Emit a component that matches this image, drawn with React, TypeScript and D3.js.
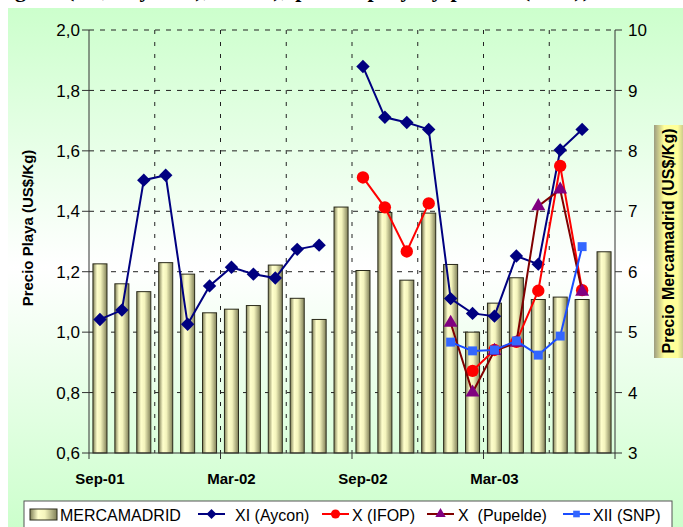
import React from 'react';
import * as d3 from 'd3';

// months Sep-01 .. Aug-03
const months = [
  'Sep-01', 'Oct-01', 'Nov-01', 'Dic-01', 'Ene-02', 'Feb-02', 'Mar-02', 'Abr-02',
  'May-02', 'Jun-02', 'Jul-02', 'Ago-02', 'Sep-02', 'Oct-02', 'Nov-02', 'Dic-02',
  'Ene-03', 'Feb-03', 'Mar-03', 'Abr-03', 'May-03', 'Jun-03', 'Jul-03', 'Ago-03',
];
const shownLabels = ['Sep-01', 'Mar-02', 'Sep-02', 'Mar-03'];

// right axis (US$/Kg)
const mercamadrid = [
  6.13, 5.80, 5.67, 6.15, 5.96, 5.32, 5.38, 5.44, 6.11, 5.56, 5.21, 7.07,
  6.02, 6.98, 5.86, 6.97, 6.12, 5.00, 5.48, 5.90, 5.54, 5.58, 5.54, 6.33,
];
// left axis (US$/Kg)
const aycon = [
  1.042, 1.073, 1.503, 1.519, 1.026, 1.153, 1.215, 1.192, 1.179, 1.274, 1.288, null,
  1.879, 1.711, 1.694, 1.671, 1.111, 1.062, 1.053, 1.252, 1.225, 1.603, 1.671, null,
];
const ifop = [
  null, null, null, null, null, null, null, null, null, null, null, null,
  1.512, 1.413, 1.267, 1.426, null, 0.872, 0.941, 0.968, 1.137, 1.550, 1.139, null,
];
const pupelde = [
  null, null, null, null, null, null, null, null, null, null, null, null,
  null, null, null, null, 1.031, 0.800, 0.938, 0.965, 1.417, 1.472, 1.134, null,
];
const snp = [
  null, null, null, null, null, null, null, null, null, null, null, null,
  null, null, null, null, 0.967, 0.938, 0.941, 0.971, 0.924, 0.987, 1.283, null,
];

const leftTicks = [0.6, 0.8, 1.0, 1.2, 1.4, 1.6, 1.8, 2.0];
const rightTicks = [3, 4, 5, 6, 7, 8, 9, 10];

const W = 683;
const H = 527;
const plot = { left: 89, right: 615, top: 30, bottom: 453 };

type Series = {
  name: string;
  values: (number | null)[];
  line: string;
  fill: string;
  symbol: d3.SymbolType;
  size: number;
  rotate: number;
};

const series: Series[] = [
  { name: 'XI (Aycon)', values: aycon, line: '#000080', fill: '#000080', symbol: d3.symbolSquare, size: 90, rotate: 45 },
  { name: 'X (IFOP)', values: ifop, line: '#ff0000', fill: '#ff0000', symbol: d3.symbolCircle, size: 120, rotate: 0 },
  { name: 'X  (Pupelde)', values: pupelde, line: '#800000', fill: '#800080', symbol: d3.symbolTriangle, size: 85, rotate: 0 },
  { name: 'XII (SNP)', values: snp, line: '#1a4cff', fill: '#3366ff', symbol: d3.symbolSquare, size: 80, rotate: 0 },
];

// legend layout: swatch start and text start
const legendPos = [
  { sx: 30, tx: 60 },
  { sx: 198, tx: 235 },
  { sx: 322, tx: 352 },
  { sx: 427, tx: 458 },
  { sx: 563, tx: 593 },
];

export default function App() {
  const x = d3.scaleBand<string>()
    .domain(months)
    .range([plot.left, plot.right])
    .paddingInner(0.36)
    .paddingOuter(0.18);
  const step = x.step();
  const cx = (m: string) => (x(m) as number) + x.bandwidth() / 2;
  const edge = (i: number) => (x(months[0]) as number) - (step * 0.36) / 2 + i * step;

  const yL = d3.scaleLinear().domain([0.6, 2.0]).range([plot.bottom, plot.top]);
  const yR = d3.scaleLinear().domain([3, 10]).range([plot.bottom, plot.top]);

  const vGrid = d3.range(3, months.length, 3).map(edge);
  const xTicks = d3.range(0, months.length + 1, 6).map(edge);

  const fmt = (v: number) => d3.format('.1f')(v).replace('.', ',');

  const lineGen = (vals: (number | null)[]) =>
    d3.line<number | null>()
      .defined(d => d !== null)
      .x((_, i) => cx(months[i]))
      .y(d => yL(d as number))(vals) || '';

  const sym = (s: Series) => d3.symbol().type(s.symbol).size(s.size)() || '';

  return (
    <div style={{ position: 'fixed', left: 0, top: 0 }}>
      <svg width={W} height={H} style={{ display: 'block', fontFamily: 'Arial, "Liberation Sans", sans-serif' }}>
        <defs>
          <linearGradient id="bg" x1="0" y1="0" x2="0" y2="1">
            <stop offset="0%" stopColor="#ccffcc" />
            <stop offset="50%" stopColor="#ffffff" />
            <stop offset="100%" stopColor="#ccffcc" />
          </linearGradient>
          <linearGradient id="bar" x1="0" y1="0" x2="1" y2="0">
            <stop offset="0%" stopColor="#808058" />
            <stop offset="30%" stopColor="#ffffcc" />
            <stop offset="55%" stopColor="#f4f4bd" />
            <stop offset="100%" stopColor="#808058" />
          </linearGradient>
          <linearGradient id="ttl" x1="0" y1="0" x2="1" y2="0">
            <stop offset="0%" stopColor="#9c9c80" />
            <stop offset="30%" stopColor="#ffff99" />
            <stop offset="70%" stopColor="#ffff99" />
            <stop offset="100%" stopColor="#9c9c80" />
          </linearGradient>
        </defs>

        <rect x={0} y={0} width={W} height={H} fill="#ffffff" />
        {/* chart title, cropped at the top edge as in the source */}
        <text x={15} y={-3} fontFamily="'Liberation Serif', 'Times New Roman', serif" fontWeight="bold" fontSize={22}
          textLength={575} lengthAdjust="spacing">
          gion (XI, X y XII), Chile), precio playa y precio (US$))
        </text>
        <rect x={8} y={8} width={W - 8} height={H - 8} fill="url(#bg)" />

        {/* horizontal gridlines */}
        {leftTicks.slice(1).map(t => (
          <line key={'h' + t} x1={plot.left} x2={plot.right} y1={yL(t)} y2={yL(t)}
            stroke="#222" strokeWidth={1} strokeDasharray="5,6" />
        ))}
        {/* vertical gridlines */}
        {vGrid.map((gx, i) => (
          <line key={'v' + i} x1={gx} x2={gx} y1={plot.top} y2={plot.bottom}
            stroke="#222" strokeWidth={1} strokeDasharray="4,8" />
        ))}

        {/* bars */}
        {mercamadrid.map((v, i) => (
          <rect key={'b' + i} x={x(months[i])} y={yR(v)} width={x.bandwidth()} height={plot.bottom - yR(v)}
            fill="url(#bar)" stroke="#2a2a1a" strokeWidth={1} />
        ))}

        {/* axes */}
        <line x1={plot.left} x2={plot.left} y1={plot.top} y2={plot.bottom} stroke="#333" />
        <line x1={plot.right} x2={plot.right} y1={plot.top} y2={plot.bottom} stroke="#333" />
        <line x1={plot.left} x2={plot.right} y1={plot.bottom} y2={plot.bottom} stroke="#333" />
        {leftTicks.map(t => (
          <g key={'lt' + t}>
            <line x1={plot.left - 7} x2={plot.left} y1={yL(t)} y2={yL(t)} stroke="#333" />
            <text x={80} y={yL(t)} dy="0.36em" textAnchor="end" fontSize={17} fill="#000">{fmt(t)}</text>
          </g>
        ))}
        {rightTicks.map(t => (
          <g key={'rt' + t}>
            <line x1={plot.right} x2={plot.right + 7} y1={yR(t)} y2={yR(t)} stroke="#333" />
            <text x={628} y={yR(t)} dy="0.36em" fontSize={17} fill="#000">{t}</text>
          </g>
        ))}
        {xTicks.map((tx, i) => (
          <line key={'xt' + i} x1={tx} x2={tx} y1={plot.bottom} y2={plot.bottom + 6} stroke="#333" />
        ))}
        {shownLabels.map(m => (
          <text key={m} x={cx(m)} y={484} textAnchor="middle" fontWeight="bold" fontSize={15}>{m}</text>
        ))}

        {/* series */}
        {series.map(s => (
          <g key={s.name}>
            <path d={lineGen(s.values)} fill="none" stroke={s.line} strokeWidth={2} />
            {s.values.map((v, i) => v === null ? null : (
              <path key={i} d={sym(s)} fill={s.fill}
                transform={`translate(${cx(months[i])},${yL(v)}) rotate(${s.rotate})`} />
            ))}
          </g>
        ))}

        {/* axis titles */}
        <text transform="translate(33,228) rotate(-90)" textAnchor="middle" fontWeight="bold" fontSize={15}>
          Precio Playa (US$/Kg)
        </text>
        <rect x={654} y={125} width={34} height={233} fill="url(#ttl)" />
        <text transform="translate(674,241) rotate(-90)" textAnchor="middle" fontWeight="bold" fontSize={16}>
          Precio Mercamadrid (US$/Kg)
        </text>

        {/* legend */}
        <rect x={24} y={501} width={648} height={40} fill="#ffffff" stroke="#555" strokeWidth={1} />
        <rect x={legendPos[0].sx} y={509} width={27} height={11} fill="url(#bar)" stroke="#2a2a1a" />
        <text x={legendPos[0].tx} y={521} fontSize={16} style={{ whiteSpace: 'pre' }}>MERCAMADRID</text>
        {series.map((s, i) => {
          const p = legendPos[i + 1];
          return (
            <g key={'lg' + s.name}>
              <line x1={p.sx} x2={p.sx + 27} y1={514} y2={514} stroke={s.line} strokeWidth={2} />
              <path d={d3.symbol().type(s.symbol).size(s.size * 0.55)() || ''} fill={s.fill}
                transform={`translate(${p.sx + 13.5},514) rotate(${s.rotate})`} />
              <text x={p.tx} y={521} fontSize={16} style={{ whiteSpace: 'pre' }}>{s.name}</text>
            </g>
          );
        })}
      </svg>
    </div>
  );
}
